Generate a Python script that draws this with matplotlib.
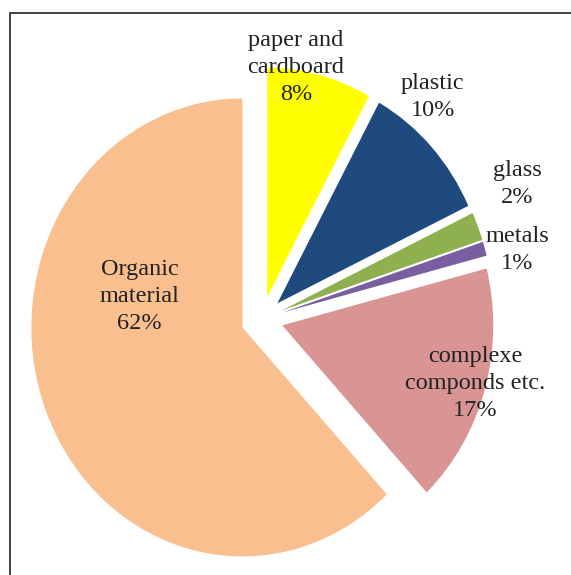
import matplotlib.pyplot as plt
from matplotlib.patches import Rectangle

# waste composition, clockwise from 12 o'clock
labels = ["paper and\ncardboard", "plastic", "glass", "metals",
          "complexe\ncomponds etc.", "Organic\nmaterial"]
shares = [8, 10, 2, 1, 17, 62]
colors = ["#FFFF00", "#1F4A7E", "#8FB04F", "#7A5FA0", "#D99594", "#F9BF8F"]

# label anchor points (data units, pie radius = 1)
label_pos = [(0.16, 1.10), (0.81, 0.97), (1.21, 0.59), (1.21, 0.30),
             (1.01, -0.28), (-0.58, 0.10)]

fig = plt.figure(figsize=(5.71, 5.75), dpi=100)
ax = fig.add_axes([0, 0, 1, 1])

wedges, _ = ax.pie(shares, colors=colors, startangle=90, counterclock=False,
                   explode=[0.1] * len(shares), radius=1,
                   wedgeprops=dict(linewidth=0))

ax.set_aspect('auto')
ax.set_xlim(-262 / 211, 309 / 211)
ax.set_ylim(-256 / 229, 319 / 229)

for lab, val, (x, y) in zip(labels, shares, label_pos):
    ax.text(x, y, f"{lab}\n{val}%", ha='center', va='center',
            fontsize=17.5, family='Liberation Serif', color='#222222',
            linespacing=1.38)

# chart border
fig.patches.append(Rectangle((10 / 571, -0.05), 1.1, 1 - 13 / 575 + 0.05,
                             transform=fig.transFigure, fill=False,
                             edgecolor='#333333', linewidth=1.3))

fig.savefig("out.png", dpi=100)
